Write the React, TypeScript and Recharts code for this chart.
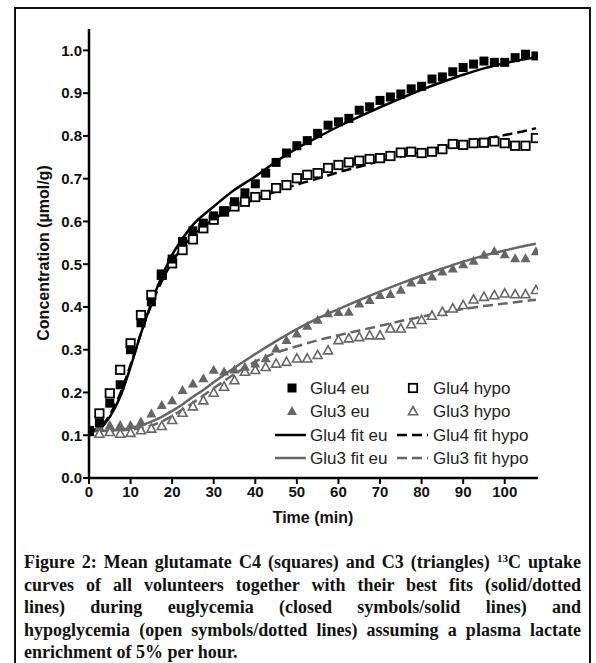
import React from "react";
import { ComposedChart, Line, Scatter, XAxis, YAxis } from "recharts";

// sample times (min) for the measured points
const T = [
  0, 2.5, 5, 7.5, 10, 12.5, 15, 17.5, 20, 22.5, 25, 27.5, 30, 32.5, 35, 37.5, 40, 42.5, 45, 47.5, 50, 52.5,
  55, 57.5, 60, 62.5, 65, 67.5, 70, 72.5, 75, 77.5, 80, 82.5, 85, 87.5, 90, 92.5, 95, 97.5, 100, 102.5, 105, 107.5,
];

const GLU4_EU = [
  0.11, 0.129, 0.175, 0.218, 0.3, 0.363, 0.412, 0.477, 0.512, 0.553, 0.578, 0.596, 0.613, 0.625, 0.646, 0.667,
  0.688, 0.713, 0.738, 0.76, 0.777, 0.789, 0.806, 0.825, 0.833, 0.841, 0.86, 0.868, 0.883, 0.891, 0.898, 0.91,
  0.916, 0.933, 0.938, 0.95, 0.96, 0.968, 0.975, 0.972, 0.972, 0.983, 0.991, 0.987,
];
const GLU4_HYPO = [
  0.11, 0.151, 0.198, 0.253, 0.315, 0.381, 0.428, 0.475, 0.502, 0.533, 0.558, 0.584, 0.604, 0.623, 0.635, 0.646,
  0.657, 0.662, 0.678, 0.685, 0.701, 0.709, 0.713, 0.725, 0.732, 0.738, 0.742, 0.746, 0.748, 0.753, 0.761, 0.763,
  0.76, 0.763, 0.769, 0.781, 0.779, 0.783, 0.784, 0.787, 0.783, 0.777, 0.777, 0.795,
];
const GLU3_EU = [
  0.112, 0.12, 0.124, 0.124, 0.124, 0.132, 0.151, 0.171, 0.182, 0.206, 0.221, 0.233, 0.253, 0.249, 0.254, 0.26,
  0.268, 0.28, 0.303, 0.323, 0.338, 0.356, 0.37, 0.385, 0.388, 0.389, 0.408, 0.416, 0.428, 0.43, 0.44, 0.457,
  0.463, 0.471, 0.483, 0.49, 0.5, 0.508, 0.522, 0.531, 0.523, 0.514, 0.514, 0.53,
];
const GLU3_HYPO = [
  0.108, 0.104, 0.108, 0.104, 0.106, 0.112, 0.116, 0.122, 0.136, 0.153, 0.168, 0.182, 0.2, 0.214, 0.229, 0.249,
  0.253, 0.26, 0.268, 0.272, 0.28, 0.28, 0.288, 0.299, 0.323, 0.327, 0.33, 0.334, 0.334, 0.35, 0.35, 0.36, 0.37,
  0.38, 0.389, 0.397, 0.405, 0.418, 0.424, 0.428, 0.432, 0.43, 0.43, 0.44,
];

// fitted curves
const FIT_T = [
  0, 2.5, 5, 7.5, 10, 12.5, 15, 17.5, 20, 22.5, 25, 27.5, 30, 35, 40, 45, 50, 55, 60, 65, 70, 75, 80, 85, 90, 95,
  100, 105, 107.5,
];
const FIT_GLU4_EU = [
  0.11, 0.115, 0.143, 0.19, 0.26, 0.338, 0.409, 0.471, 0.522, 0.56, 0.592, 0.615, 0.635, 0.674, 0.705, 0.74,
  0.771, 0.797, 0.822, 0.845, 0.867, 0.888, 0.908, 0.926, 0.943, 0.958, 0.97, 0.98, 0.984,
];
const FIT_GLU4_HYPO = [
  0.11, 0.118, 0.148, 0.197, 0.265, 0.338, 0.405, 0.46, 0.505, 0.54, 0.567, 0.588, 0.605, 0.632, 0.652, 0.67,
  0.686, 0.7, 0.715, 0.728, 0.741, 0.752, 0.763, 0.773, 0.783, 0.793, 0.802, 0.812, 0.818,
];
const FIT_GLU3_EU = [
  0.11, 0.11, 0.111, 0.113, 0.117, 0.123, 0.132, 0.143, 0.157, 0.172, 0.19, 0.206, 0.224, 0.258, 0.29, 0.32,
  0.348, 0.373, 0.395, 0.416, 0.436, 0.455, 0.473, 0.49, 0.506, 0.52, 0.532, 0.543, 0.548,
];
const FIT_GLU3_HYPO = [
  0.11, 0.11, 0.11, 0.111, 0.113, 0.117, 0.123, 0.132, 0.145, 0.16, 0.176, 0.193, 0.21, 0.243, 0.272, 0.293,
  0.308, 0.322, 0.334, 0.345, 0.356, 0.367, 0.377, 0.387, 0.395, 0.402, 0.408, 0.414, 0.417,
];

const X_TICKS = [0, 10, 20, 30, 40, 50, 60, 70, 80, 90, 100];
const Y_TICKS = [0, 0.1, 0.2, 0.3, 0.4, 0.5, 0.6, 0.7, 0.8, 0.9, 1.0];

const GREY = "#666666";
const SANS = "'Liberation Sans', Arial, sans-serif";
const tickStyle = { fontSize: 15, fontWeight: 700, fill: "#111", fontFamily: SANS };

const pts = (xs: number[], ys: number[]) => xs.map((t, i) => ({ t, v: ys[i] }));

const FilledSquare = (p: any) => <rect x={p.cx - 4.5} y={p.cy - 4.5} width={9} height={9} fill="#000" />;
const OpenSquare = (p: any) => (
  <rect x={p.cx - 4.2} y={p.cy - 4.2} width={8.4} height={8.4} fill="#fff" stroke="#000" strokeWidth={1.8} />
);
const FilledTri = (p: any) => (
  <path d={`M${p.cx},${p.cy - 5} L${p.cx + 5},${p.cy + 4} L${p.cx - 5},${p.cy + 4} Z`} fill={GREY} />
);
const OpenTri = (p: any) => (
  <path
    d={`M${p.cx},${p.cy - 4.5} L${p.cx + 4.5},${p.cy + 3.7} L${p.cx - 4.5},${p.cy + 3.7} Z`}
    fill="#fff"
    stroke={GREY}
    strokeWidth={1.6}
  />
);

function LegendBox() {
  const rows = [388, 411, 435, 458];
  const txt = { fontSize: 17, fontFamily: SANS, fill: "#222" };
  return (
    <svg width={596} height={540} style={{ position: "absolute", left: 0, top: 0 }}>
      <FilledSquare cx={292} cy={rows[0]} />
      <text x={310} y={rows[0] + 6} {...txt}>Glu4 eu</text>
      <OpenSquare cx={413} cy={rows[0]} />
      <text x={433} y={rows[0] + 6} {...txt}>Glu4 hypo</text>

      <FilledTri cx={292} cy={rows[1]} />
      <text x={310} y={rows[1] + 6} {...txt}>Glu3 eu</text>
      <OpenTri cx={413} cy={rows[1]} />
      <text x={433} y={rows[1] + 6} {...txt}>Glu3 hypo</text>

      <line x1={275} x2={306} y1={rows[2]} y2={rows[2]} stroke="#000" strokeWidth={2.5} />
      <text x={310} y={rows[2] + 6} {...txt}>Glu4 fit eu</text>
      <line x1={397} x2={428} y1={rows[2]} y2={rows[2]} stroke="#000" strokeWidth={2.5} strokeDasharray="10 5" />
      <text x={433} y={rows[2] + 6} {...txt}>Glu4 fit hypo</text>

      <line x1={275} x2={306} y1={rows[3]} y2={rows[3]} stroke={GREY} strokeWidth={2.5} />
      <text x={310} y={rows[3] + 6} {...txt}>Glu3 fit eu</text>
      <line x1={397} x2={428} y1={rows[3]} y2={rows[3]} stroke={GREY} strokeWidth={2.5} strokeDasharray="10 5" />
      <text x={433} y={rows[3] + 6} {...txt}>Glu3 fit hypo</text>
    </svg>
  );
}

const capLine = {
  textAlign: "justify" as const,
  textAlignLast: "justify" as const,
  height: 22.5,
  lineHeight: "22.5px",
};

export default function App() {
  return (
    <div style={{ position: "absolute", left: 0, top: 0, width: 596, height: 663, overflow: "hidden", background: "#fff" }}>
      <div
        style={{
          position: "absolute",
          left: 14,
          top: 7,
          width: 577,
          height: 720,
          boxSizing: "border-box",
          border: "2px solid #111",
        }}
      />
      <div style={{ position: "absolute", left: 0, top: 0 }}>
        <ComposedChart width={596} height={540} margin={{ top: 29, right: 58, bottom: 32, left: 0 }}>
          <XAxis
            type="number"
            dataKey="t"
            domain={[0, 108]}
            ticks={X_TICKS}
            allowDataOverflow
            interval={0}
            tick={tickStyle}
            tickSize={6}
            tickMargin={2}
            height={30}
            axisLine={{ stroke: "#000", strokeWidth: 2.5 }}
            tickLine={{ stroke: "#000", strokeWidth: 2 }}
          />
          <YAxis
            type="number"
            dataKey="v"
            domain={[0, 1.05]}
            ticks={Y_TICKS}
            allowDataOverflow
            interval={0}
            width={89}
            tick={tickStyle}
            tickSize={6}
            tickMargin={1}
            tickFormatter={(v: number) => v.toFixed(1)}
            axisLine={{ stroke: "#000", strokeWidth: 2.5 }}
            tickLine={{ stroke: "#000", strokeWidth: 2 }}
          />
          <Scatter data={pts(T, GLU3_HYPO)} dataKey="v" shape={OpenTri} isAnimationActive={false} />
          <Scatter data={pts(T, GLU3_EU)} dataKey="v" shape={FilledTri} isAnimationActive={false} />
          <Scatter data={pts(T, GLU4_HYPO)} dataKey="v" shape={OpenSquare} isAnimationActive={false} />
          <Scatter data={pts(T, GLU4_EU)} dataKey="v" shape={FilledSquare} isAnimationActive={false} />
          <Line data={pts(FIT_T, FIT_GLU3_EU)} dataKey="v" type="monotone" stroke={GREY} strokeWidth={2.5} dot={false} isAnimationActive={false} />
          <Line data={pts(FIT_T, FIT_GLU3_HYPO)} dataKey="v" type="monotone" stroke={GREY} strokeWidth={2.5} strokeDasharray="10 5" dot={false} isAnimationActive={false} />
          <Line data={pts(FIT_T, FIT_GLU4_EU)} dataKey="v" type="monotone" stroke="#000" strokeWidth={2.5} dot={false} isAnimationActive={false} />
          <Line data={pts(FIT_T, FIT_GLU4_HYPO)} dataKey="v" type="monotone" stroke="#000" strokeWidth={2.5} strokeDasharray="10 5" dot={false} isAnimationActive={false} />
        </ComposedChart>
        <LegendBox />
      </div>
      <div
        style={{
          position: "absolute",
          left: 44 - 150,
          top: 253 - 10,
          width: 300,
          height: 20,
          lineHeight: "20px",
          textAlign: "center",
          transform: "rotate(-90deg)",
          fontFamily: SANS,
          fontWeight: 700,
          fontSize: 16,
          color: "#111",
        }}
      >
        Concentration (µmol/g)
      </div>
      <div
        style={{
          position: "absolute",
          left: 313 - 100,
          top: 518 - 10,
          width: 200,
          lineHeight: "20px",
          textAlign: "center",
          fontFamily: SANS,
          fontWeight: 700,
          fontSize: 16,
          color: "#111",
        }}
      >
        Time (min)
      </div>
      <div
        style={{
          position: "absolute",
          left: 24,
          top: 551,
          width: 557,
          fontFamily: "'Liberation Serif', 'Times New Roman', serif",
          fontWeight: 700,
          fontSize: 18,
          color: "#111",
        }}
      >
        <div style={capLine}>
          Figure 2: Mean glutamate C4 (squares) and C3 (triangles){" "}
          <span style={{ fontSize: 11, verticalAlign: "6px", lineHeight: 0 }}>13</span>C uptake
        </div>
        <div style={capLine}>curves of all volunteers together with their best fits (solid/dotted</div>
        <div style={capLine}>lines) during euglycemia (closed symbols/solid lines) and</div>
        <div style={capLine}>hypoglycemia (open symbols/dotted lines) assuming a plasma lactate</div>
        <div style={{ height: 22.5, lineHeight: "22.5px" }}>enrichment of 5% per hour.</div>
      </div>
    </div>
  );
}
